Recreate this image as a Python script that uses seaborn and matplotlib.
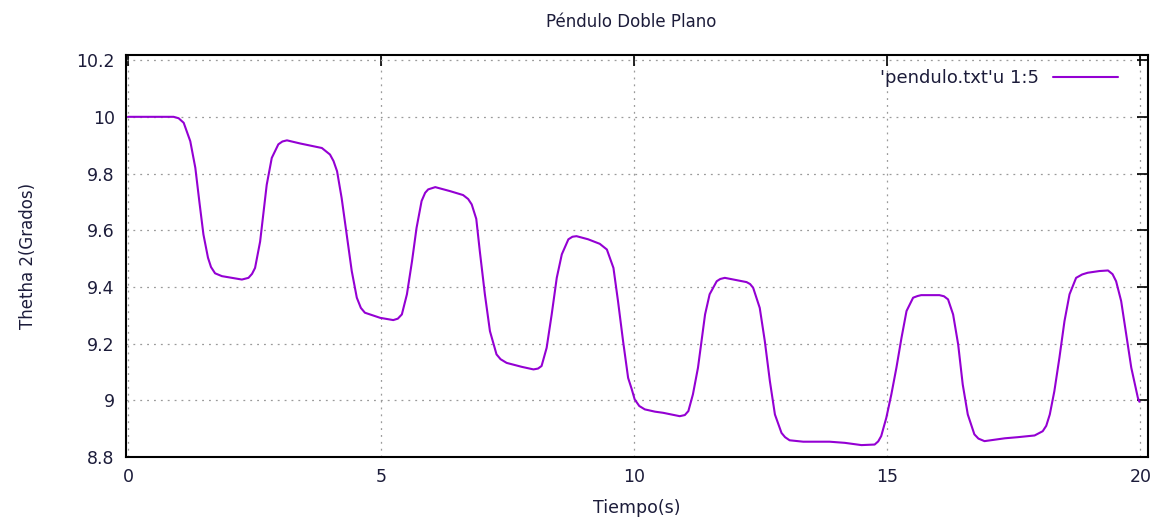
import matplotlib
matplotlib.use("Agg")
import matplotlib.pyplot as plt
import numpy as np
import pandas as pd
import seaborn as sns

### Data ###
tiempo = [0.0, 0.5, 0.9, 1.0, 1.10, 1.23, 1.33, 1.41, 1.49, 1.58, 1.64, 1.72, 1.855, 2.25,
          2.38, 2.45, 2.51, 2.61, 2.68, 2.74, 2.84, 2.97, 3.05, 3.14, 3.40, 3.83, 3.99,
          4.06, 4.13, 4.22, 4.32, 4.42, 4.52, 4.60, 4.68, 4.98, 5.24, 5.33, 5.41, 5.51,
          5.61, 5.70, 5.80, 5.87, 5.93, 6.07, 6.36, 6.62, 6.72, 6.79, 6.88, 6.95, 7.05,
          7.15, 7.28, 7.36, 7.48, 7.78, 8.01, 8.10, 8.17, 8.27, 8.37, 8.47, 8.57, 8.70,
          8.78, 8.86, 9.09, 9.32, 9.46, 9.59, 9.68, 9.78, 9.88, 9.95, 10.01, 10.10, 10.21,
          10.41, 10.57, 10.90, 11.0, 11.07, 11.16, 11.26, 11.33, 11.40, 11.49, 11.63,
          11.70, 11.79, 12.02, 12.22, 12.29, 12.35, 12.48, 12.58, 12.68, 12.78, 12.91,
          12.98, 13.07, 13.34, 13.86, 14.16, 14.49, 14.75, 14.82, 14.88, 14.98, 15.08,
          15.18, 15.28, 15.38, 15.51, 15.60, 15.67, 16.03, 16.12, 16.20, 16.30, 16.40,
          16.49, 16.59, 16.72, 16.80, 16.92, 17.32, 17.58, 17.91, 18.07, 18.14, 18.21,
          18.30, 18.40, 18.50, 18.60, 18.73, 18.85, 18.96, 19.19, 19.36, 19.45, 19.52,
          19.62, 19.72, 19.82, 19.95, 19.98]
theta2 = [10.0, 10.0, 10.0, 9.995, 9.979, 9.914, 9.82, 9.70, 9.585, 9.503, 9.47, 9.448,
          9.438, 9.426, 9.432, 9.446, 9.467, 9.56, 9.667, 9.76, 9.855, 9.903, 9.913, 9.917,
          9.906, 9.89, 9.867, 9.844, 9.808, 9.714, 9.585, 9.456, 9.362, 9.326, 9.309,
          9.291, 9.283, 9.288, 9.303, 9.374, 9.49, 9.608, 9.703, 9.732, 9.744, 9.752,
          9.738, 9.724, 9.71, 9.691, 9.64, 9.526, 9.374, 9.244, 9.162, 9.145, 9.132, 9.118,
          9.109, 9.112, 9.121, 9.185, 9.303, 9.432, 9.515, 9.568, 9.577, 9.579, 9.568,
          9.552, 9.532, 9.467, 9.35, 9.209, 9.079, 9.04, 9.003, 8.98, 8.968, 8.96, 8.956,
          8.944, 8.948, 8.962, 9.021, 9.115, 9.209, 9.303, 9.374, 9.42, 9.428, 9.432,
          9.424, 9.417, 9.41, 9.397, 9.326, 9.209, 9.068, 8.95, 8.885, 8.87, 8.859, 8.854,
          8.854, 8.85, 8.842, 8.844, 8.855, 8.874, 8.938, 9.021, 9.115, 9.22, 9.315, 9.362,
          9.368, 9.371, 9.371, 9.367, 9.356, 9.303, 9.197, 9.056, 8.95, 8.88, 8.865, 8.856,
          8.866, 8.870, 8.876, 8.891, 8.91, 8.95, 9.032, 9.15, 9.279, 9.374, 9.432, 9.444,
          9.45, 9.456, 9.458, 9.445, 9.42, 9.35, 9.232, 9.115, 9.009, 8.995]
x_ticks = [0, 5, 10, 15, 20]
y_ticks = [8.8, 9.0, 9.2, 9.4, 9.6, 9.8, 10.0, 10.2]
y_labels = ['8.8', '9', '9.2', '9.4', '9.6', '9.8', '10', '10.2']

df = pd.DataFrame({'Tiempo': tiempo, 'Theta2': theta2})

sns.set_style("white")
plt.rcParams['font.family'] = ['DejaVu Sans']

fig = plt.figure(figsize=(11.59, 5.25), dpi=100)
ax = fig.add_axes([0.1087, 0.1295, 0.8818, 0.7657])

sns.lineplot(data=df, x='Tiempo', y='Theta2', ax=ax, color='#9400D3', linewidth=1.5,
             solid_joinstyle='round', label="'pendulo.txt'u 1:5")

ax.set_xlim(-0.04, 20.15)
ax.set_ylim(8.8, 10.218)
ax.set_xticks(x_ticks)
ax.set_xticklabels([str(x) for x in x_ticks])
ax.set_yticks(y_ticks)
ax.set_yticklabels(y_labels)

# gnuplot-like look: inward mirrored ticks, dotted grey grid
ax.tick_params(direction='in', length=8, width=1.2, top=True, right=True,
               labelsize=12.5, colors='black', pad=8)
for lbl in ax.get_xticklabels() + ax.get_yticklabels():
    lbl.set_color('#1c1c3a')
ax.grid(True, linestyle=(0, (1.5, 4)), color='#9a9a9a', linewidth=0.9)
for s in ax.spines.values():
    s.set_color('black')
    s.set_linewidth(1.5)

ax.set_xlabel('Tiempo(s)', fontsize=12.5, labelpad=9, color='#1c1c3a')
ax.set_ylabel('Thetha 2(Grados)', fontsize=12, labelpad=28, color='#1c1c3a')
fig.suptitle('Péndulo Doble Plano', x=0.545, y=0.975, fontsize=12, color='#1c1c3a')

leg = ax.legend(loc='upper right', frameon=False, fontsize=13, markerfirst=False,
                handlelength=3.6, borderaxespad=0.4, bbox_to_anchor=(0.985, 1.0))
for t in leg.get_texts():
    t.set_color('#1c1c3a')

fig.savefig('out.png', dpi=100)
